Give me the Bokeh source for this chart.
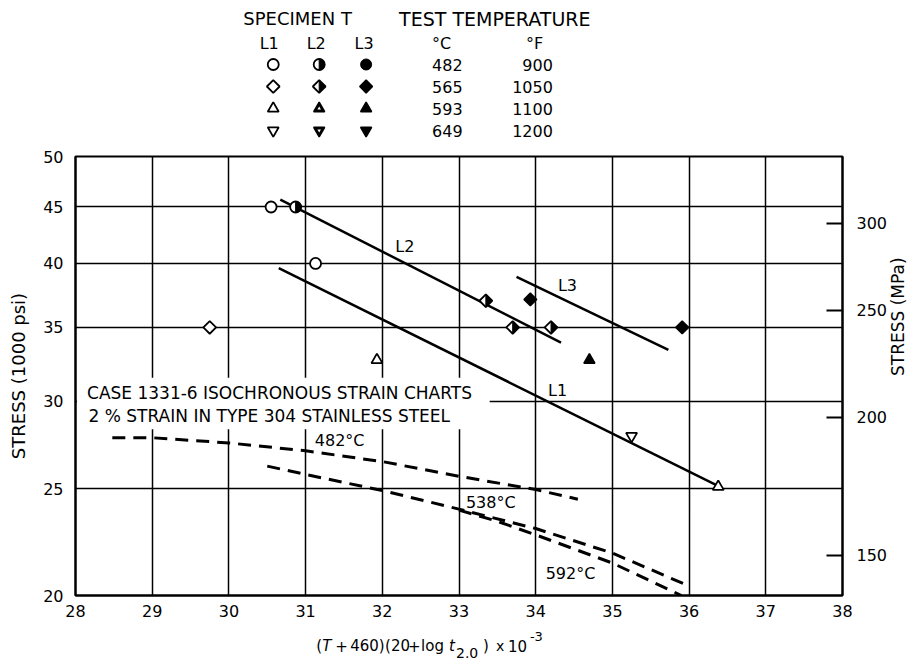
import math
from bokeh.plotting import figure
from bokeh.models import (Range1d, LogScale, LogAxis, FixedTicker, PrintfTickFormatter,
                          Label, BoxAnnotation)
from bokeh.layouts import column
from bokeh.embed import file_html
from bokeh.resources import INLINE
from bokeh.core.properties import value

FONT = "DejaVu Sans"

# ---------------- data ----------------
x_ticks = [28, 29, 30, 31, 32, 33, 34, 35, 36, 37, 38]
y_ticks = [20, 25, 30, 35, 40, 45, 50]
mpa_ticks = [150, 200, 250, 300]
KSI_TO_MPA = 6.89476

specimens = ["L1", "L2", "L3"]
temps_c = ["482", "565", "593", "649"]
temps_f = ["900", "1050", "1100", "1200"]

# L1 (open symbols)
l1_circle_x = [30.55, 31.13]
l1_circle_y = [45.0, 40.0]
l1_diamond_x = [29.75]
l1_diamond_y = [35.0]
l1_tri_x = [31.93, 36.38]
l1_tri_y = [32.7, 25.1]
l1_itri_x = [35.25]
l1_itri_y = [27.9]
# L2 (half-filled symbols)
l2_circle_x = [30.87]
l2_circle_y = [45.0]
l2_diamond_x = [33.35, 33.70, 34.20]
l2_diamond_y = [37.0, 35.0, 35.0]
# L3 (filled symbols)
l3_diamond_x = [33.93, 35.91]
l3_diamond_y = [37.1, 35.0]
l3_tri_x = [34.70]
l3_tri_y = [32.7]

# trend lines
l1_line_x = [30.65, 36.35]
l1_line_y = [39.6, 25.2]
l2_line_x = [30.67, 34.33]
l2_line_y = [45.7, 33.9]
l3_line_x = [33.75, 35.73]
l3_line_y = [38.9, 33.4]

# isochronous strain curves (dashed)
iso482_x = [28.48, 29.0, 30.0, 31.0, 32.0, 33.0, 34.0, 34.55]
iso482_y = [27.8, 27.8, 27.5, 27.05, 26.45, 25.65, 24.95, 24.45]
iso538_x = [30.5, 31.0, 32.0, 33.0, 34.0, 35.0, 36.0]
iso538_y = [26.2, 25.75, 24.9, 23.95, 23.0, 21.85, 20.4]
iso592_x = [33.0, 33.5, 34.0, 35.0, 35.9]
iso592_y = [23.9, 23.35, 22.7, 21.4, 20.0]

# ---------------- layout ----------------
W, H = 921, 665
LEG_H = 140
TITLE_H = 40
MAIN_H = H - LEG_H - TITLE_H
BL, BR, BT, BB = 75, 78, 16, 30
FRAME_W = W - BL - BR
FRAME_H = MAIN_H - BT - BB

p = figure(width=W, height=MAIN_H, x_range=Range1d(28, 38), y_range=Range1d(20, 50),
           y_axis_type="log", output_backend="svg", toolbar_location=None,
           min_border_left=BL, min_border_right=BR, min_border_top=BT, min_border_bottom=BB)
p.background_fill_color = "white"
p.border_fill_color = "white"
p.outline_line_color = "black"
p.outline_line_width = 2

p.xaxis.ticker = FixedTicker(ticks=x_ticks)
p.yaxis.ticker = FixedTicker(ticks=y_ticks)
p.xaxis.formatter = PrintfTickFormatter(format="%d")
p.yaxis.formatter = PrintfTickFormatter(format="%d")
for ax in [p.xaxis[0], p.yaxis[0]]:
    ax.major_tick_in = 0
    ax.major_tick_out = 0
    ax.minor_tick_line_color = None
    ax.axis_line_color = "black"
    ax.axis_line_width = 2
    ax.major_label_text_font = FONT
    ax.major_label_text_font_size = "16px"
    ax.major_label_text_color = "black"
p.xaxis.major_label_standoff = 9
p.yaxis.major_label_standoff = 12
p.yaxis.axis_label = "STRESS (1000 psi)"
p.yaxis.axis_label_text_font = FONT
p.yaxis.axis_label_text_font_size = "18px"
p.yaxis.axis_label_text_font_style = "normal"
p.yaxis.axis_label_text_color = "black"
p.yaxis.axis_label_standoff = 11

p.xgrid.ticker = FixedTicker(ticks=x_ticks)
p.ygrid.ticker = FixedTicker(ticks=y_ticks)
p.grid.grid_line_color = "black"
p.grid.grid_line_width = 1.5
p.grid.grid_line_alpha = 1.0

# right MPa axis
p.extra_y_ranges = {"mpa": Range1d(20 * KSI_TO_MPA, 50 * KSI_TO_MPA)}
p.extra_y_scales = {"mpa": LogScale()}
rax = LogAxis(y_range_name="mpa", ticker=FixedTicker(ticks=mpa_ticks),
              formatter=PrintfTickFormatter(format="%d"),
              major_tick_in=16, major_tick_out=0, major_tick_line_width=2,
              major_tick_line_color="black", minor_tick_line_color=None,
              axis_line_color="black", axis_line_width=2,
              major_label_standoff=14, major_label_text_font=FONT,
              major_label_text_font_size="16px", major_label_text_color="black",
              axis_label="STRESS (MPa)", axis_label_text_font=FONT,
              axis_label_text_font_size="17px", axis_label_text_font_style="normal",
              axis_label_text_color="black", axis_label_standoff=8)
rax.axis_label_orientation = math.pi / 2
p.add_layout(rax, "right")

# white box behind the caption
p.add_layout(BoxAnnotation(left=28.02, right=33.4, bottom=28.3, top=31.5,
                           fill_color="white", fill_alpha=1.0, line_color=None))

# dashed isochronous curves
for xs, ys in [(iso482_x, iso482_y), (iso538_x, iso538_y), (iso592_x, iso592_y)]:
    p.line(xs, ys, line_color="black", line_width=3, line_dash="13 8")

# trend lines
for xs, ys in [(l1_line_x, l1_line_y), (l2_line_x, l2_line_y), (l3_line_x, l3_line_y)]:
    p.line(xs, ys, line_color="black", line_width=2.5)

CIRC, DIAM, TRI = 11, 9, 11
PX_PER_X = FRAME_W / 10.0
PX_PER_LOG = FRAME_H / math.log10(50.0 / 20.0)


def half_diamond_main(xs, ys, h):
    dx = h / PX_PER_X
    f = 10 ** (h / PX_PER_LOG)
    p.patches([[x, x + dx, x] for x in xs], [[y * f, y, y / f] for y in ys],
              fill_color="black", line_color="black", line_width=1)


# L1 open
p.scatter(l1_circle_x, l1_circle_y, marker="circle", size=CIRC, fill_color="white",
          line_color="black", line_width=1.8)
p.scatter(l1_diamond_x, l1_diamond_y, marker="square", angle=math.pi / 4, size=DIAM,
          fill_color="white", line_color="black", line_width=1.8)
p.scatter(l1_tri_x, l1_tri_y, marker="triangle", size=TRI, fill_color="white",
          line_color="black", line_width=1.8)
p.scatter(l1_itri_x, l1_itri_y, marker="inverted_triangle", size=TRI, fill_color="white",
          line_color="black", line_width=1.8)
# L2 half filled
p.scatter(l2_circle_x, l2_circle_y, marker="circle", size=CIRC, fill_color="white",
          line_color="black", line_width=1.8)
p.wedge(l2_circle_x, l2_circle_y, radius=CIRC / 2, radius_units="screen",
        start_angle=-math.pi / 2, end_angle=math.pi / 2, fill_color="black", line_color="black")
p.scatter(l2_diamond_x, l2_diamond_y, marker="square", angle=math.pi / 4, size=DIAM,
          fill_color="white", line_color="black", line_width=1.8)
half_diamond_main(l2_diamond_x, l2_diamond_y, DIAM * math.sqrt(2) / 2)
# L3 filled
p.scatter(l3_diamond_x, l3_diamond_y, marker="square", angle=math.pi / 4, size=DIAM,
          fill_color="black", line_color="black", line_width=1.5)
p.scatter(l3_tri_x, l3_tri_y, marker="triangle", size=TRI, fill_color="black",
          line_color="black", line_width=1.5)


def data_label(text, x, y, size=17):
    p.add_layout(Label(x=x, y=y, text=text, text_font=FONT, text_font_size=f"{size}px",
                       text_align="left", text_baseline="middle", text_color="black"))


data_label("CASE 1331-6 ISOCHRONOUS STRAIN CHARTS", 28.15, 30.5)
data_label("2 % STRAIN IN TYPE 304 STAINLESS STEEL", 28.17, 29.12)
data_label("482°C", 31.12, 27.64, 16)
data_label("538°C", 33.09, 24.29, 16)
data_label("592°C", 34.13, 20.94, 16)
data_label("L1", 34.16, 30.67, 16)
data_label("L2", 32.17, 41.42, 16)
data_label("L3", 34.29, 38.2, 16)

# ---------------- legend figure (canvas pixel coordinates) ----------------
lg = figure(width=W, height=LEG_H, x_range=Range1d(BL, W - BR), y_range=Range1d(LEG_H, 0),
            output_backend="svg", toolbar_location=None, x_axis_location=None,
            y_axis_location=None, min_border=0, min_border_left=BL, min_border_right=BR)
lg.grid.visible = False
lg.outline_line_color = None
lg.background_fill_color = "white"
lg.border_fill_color = "white"


def lg_text(xs, ys, texts, size="16px", align="left"):
    lg.text(x=xs, y=ys, text=texts, text_font=value(FONT), text_font_size=value(size),
            text_align=align, text_baseline="middle", text_color="black")


lg_text([243], [18], ["SPECIMEN T"], "18px")
lg_text([399], [18], ["TEST TEMPERATURE"], "19px")
col_x = [273, 319, 366]
head_x = [269, 316, 364]
row_y = [64, 86, 108, 130]
lg_text(head_x, [43] * 3, specimens, "16px", "center")
lg_text([432], [43], ["°C"], "16px")
lg_text([526], [43], ["°F"], "16px")
lg_text([432] * 4, row_y, temps_c, "16px")
lg_text([553] * 4, row_y, temps_f, "16px", "right")

x1, x2, x3 = col_x
r0, r1, r2, r3 = row_y
# circles
lg.scatter([x1, x2], [r0, r0], marker="circle", size=CIRC, fill_color="white",
           line_color="black", line_width=1.8)
lg.wedge([x2], [r0], radius=CIRC / 2, radius_units="screen", start_angle=-math.pi / 2,
         end_angle=math.pi / 2, fill_color="black", line_color="black")
lg.scatter([x3], [r0], marker="circle", size=CIRC, fill_color="black", line_color="black")
# diamonds
lg.scatter([x1, x2], [r1, r1], marker="square", angle=math.pi / 4, size=DIAM,
           fill_color="white", line_color="black", line_width=1.8)
hd = DIAM * math.sqrt(2) / 2
lg.patches([[x2, x2 + hd, x2]], [[r1 - hd, r1, r1 + hd]], fill_color="black",
           line_color="black", line_width=1)
lg.scatter([x3], [r1], marker="square", angle=math.pi / 4, size=DIAM, fill_color="black",
           line_color="black", line_width=1.5)
# triangles
lg.scatter([x1], [r2], marker="triangle", size=TRI, fill_color="white", line_color="black",
           line_width=1.8)
lg.scatter([x2, x3], [r2, r2], marker="triangle", size=TRI, fill_color="black",
           line_color="black", line_width=1.5)
lg.scatter([x2], [r2], marker="triangle", size=3.5, fill_color="white", line_color=None)
# inverted triangles
lg.scatter([x1], [r3], marker="inverted_triangle", size=TRI, fill_color="white",
           line_color="black", line_width=1.8)
lg.scatter([x2, x3], [r3, r3], marker="inverted_triangle", size=TRI, fill_color="black",
           line_color="black", line_width=1.5)
lg.scatter([x2], [r3], marker="inverted_triangle", size=3.5, fill_color="white",
           line_color=None)

# ---------------- x-axis title figure (canvas pixel coordinates) ----------------
TOP = H - TITLE_H
tf = figure(width=W, height=TITLE_H, x_range=Range1d(BL, W - BR), y_range=Range1d(H, TOP),
            output_backend="svg", toolbar_location=None, x_axis_location=None,
            y_axis_location=None, min_border=0, min_border_left=BL, min_border_right=BR)
tf.grid.visible = False
tf.outline_line_color = None
tf.background_fill_color = "white"
tf.border_fill_color = "white"

XB = 645
for txt, cx, dy, size, style in [
    ("(", 316, 0, 15, "normal"),
    ("T", 322, 0, 15, "italic"),
    ("+", 335, 0, 15, "normal"),
    ("460)", 350, 0, 15, "normal"),
    ("(20", 385, 0, 15, "normal"),
    ("+", 408, 0, 15, "normal"),
    ("log", 421, 0, 15, "normal"),
    ("t", 449, 0, 15, "italic"),
    ("2.0", 456, 7, 14, "normal"),
    (")", 483, 0, 15, "normal"),
    ("x", 496, 0, 14, "normal"),
    ("10", 508, 0, 15, "normal"),
    ("-3", 530, -9, 13, "normal"),
]:
    tf.text(x=[cx], y=[XB + dy], text=[txt], text_font=value(FONT),
            text_font_size=value(f"{size}px"), text_font_style=value(style),
            text_align="left", text_baseline="alphabetic", text_color="black")

layout = column(lg, p, tf, spacing=0)
open("out.html", "w").write(file_html(layout, INLINE, title="Stress vs parameter"))
